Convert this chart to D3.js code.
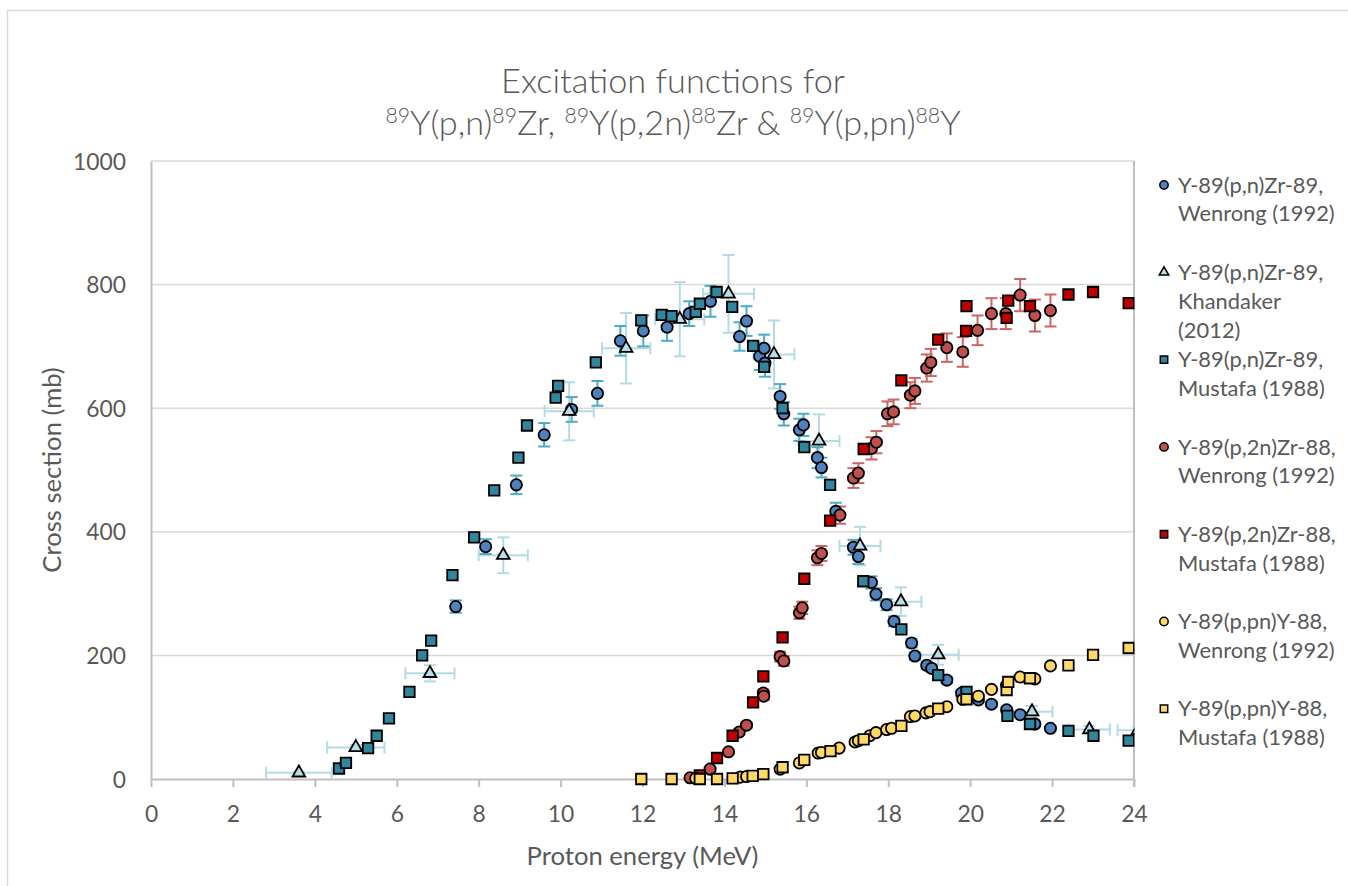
<!DOCTYPE html>
<html><head><meta charset="utf-8">
<script src="https://cdn.jsdelivr.net/npm/d3@7"></script>
<style>body{margin:0;background:#fff}svg{display:block}</style>
</head><body>
<svg id="chart" width="1348" height="886"></svg>
<script>
// ---------------- data ----------------
const xTickValues = [0,2,4,6,8,10,12,14,16,18,20,22,24];
const yTickValues = [0,200,400,600,800,1000];

// Y-89(p,n)Zr-89, Wenrong (1992)  [MeV, mb]
const pnWenrong = [[7.44,279],[8.17,376],[8.92,476],[9.6,557],[10.27,598],[10.9,624],[11.46,709],[12.02,725],[12.6,731],[13.14,753],
  [13.66,773],[14.37,716],[14.54,741],[14.86,684],[14.97,697],[14.99,673],[15.36,619],[15.45,591],[15.83,565],[15.93,573],
  [16.27,520],[16.37,504],[16.72,433],[17.15,375],[17.27,360],[17.59,318],[17.7,299],[17.96,282],[18.14,255],[18.57,220],
  [18.65,199],[18.94,184],[19.06,179],[19.43,160],[19.79,139],[20.2,128],[20.52,121],[20.89,112],[21.22,104],[21.58,89],[21.96,82]];
const pnWenrongErr = [10,12,15,19,20,20,24,25,22,20, 25,23,24,22,22,22,20,19,18,18, 17,16,14,12,12,10,10,9,8,7, 6,6,6,5,5,4,4,4,3,3,3];

// Y-89(p,n)Zr-89, Khandaker (2012)
const pnKhandaker = [[3.61,10],[5.0,51],[6.81,171],[8.6,362],[10.21,595],[11.6,697],[12.91,744],[14.1,785],[15.21,687],[16.31,547],
  [17.31,377],[18.31,287],[19.22,201],[21.51,109],[22.91,80],[24.1,79]];
const pnKhandakerXErr = [0.8,0.7,0.6,0.6,0.6,0.59,0.6,0.62,0.5,0.5,0.5,0.5,0.5,0.5,0.5,0.5];
const pnKhandakerYErr = [2,4,13,29,47,57,60,63,55,43,31,23,16,9,6,6];

// Y-89(p,n)Zr-89, Mustafa (1988)
const pnMustafa = [[4.59,17],[4.76,26],[5.3,50],[5.51,70],[5.81,98],[6.31,141],[6.62,200],[6.84,224],[7.36,330],[7.89,391],
  [8.38,467],[8.97,520],[9.18,572],[9.88,617],[9.94,636],[10.86,674],[11.97,742],[12.47,751],[12.71,749],[13.3,756],
  [13.4,769],[13.81,788],[14.19,764],[14.7,701],[14.97,667],[15.42,600],[15.95,537],[16.58,476],[17.39,320],[18.32,242],
  [19.22,168],[19.91,141],[20.91,102],[21.46,89],[22.4,78],[23.01,70],[23.87,62]];

// Y-89(p,2n)Zr-88, Wenrong (1992)
const p2nWenrong = [[13.16,2],[13.65,16],[14.1,44],[14.36,76],[14.54,87],[14.95,139],[14.96,134],[15.36,198],[15.45,191],[15.83,269],
  [15.9,277],[16.27,358],[16.37,365],[16.82,427],[17.15,487],[17.27,495],[17.59,535],[17.71,545],[17.98,591],[18.13,594],
  [18.54,621],[18.65,628],[18.94,665],[19.04,674],[19.43,698],[19.82,691],[20.18,726],[20.52,753],[20.87,753],[21.22,783],
  [21.58,750],[21.96,758]];
const p2nWenrongErr = [1,2,3,4,4,6,6,8,8,10, 10,12,12,14,16,16,18,18,20,20, 21,21,22,22,23,24,24,25,25,26, 26,26];

// Y-89(p,2n)Zr-88, Mustafa (1988)
const p2nMustafa = [[13.4,6],[13.82,34],[14.2,70],[14.7,124],[14.95,166],[15.42,229],[15.95,324],[16.58,418],[17.4,534],[18.32,645],
  [19.22,711],[19.9,725],[19.91,765],[20.89,746],[20.93,774],[21.46,765],[22.4,784],[23.0,788],[23.87,770]];

// Y-89(p,pn)Y-88, Wenrong (1992)
const ppnWenrong = [[13.3,1],[14.38,3],[14.54,4],[15.36,16],[15.83,26],[16.29,42],[16.37,43],[16.8,50],[17.19,60],[17.27,62],
  [17.55,70],[17.7,75],[17.96,80],[18.08,82],[18.54,101],[18.65,102],[18.92,107],[19.02,109],[19.43,117],[19.82,129],
  [20.2,134],[20.52,145],[20.89,152],[21.22,165],[21.58,162],[21.96,183]];

// Y-89(p,pn)Y-88, Mustafa (1988)
const ppnMustafa = [[11.97,0],[12.71,0],[13.4,0],[13.82,0],[14.2,1],[14.69,5],[14.95,8],[15.42,19],[15.95,31],[16.59,45],
  [17.4,64],[18.32,86],[19.22,114],[19.91,129],[20.89,144],[20.93,157],[21.46,163],[22.4,184],[23.0,201],[23.87,212]];

const legendLabels = [
  ["Y-89(p,n)Zr-89,","Wenrong (1992)"],
  ["Y-89(p,n)Zr-89,","Khandaker","(2012)"],
  ["Y-89(p,n)Zr-89,","Mustafa (1988)"],
  ["Y-89(p,2n)Zr-88,","Wenrong (1992)"],
  ["Y-89(p,2n)Zr-88,","Mustafa (1988)"],
  ["Y-89(p,pn)Y-88,","Wenrong (1992)"],
  ["Y-89(p,pn)Y-88,","Mustafa (1988)"]
];

// ---------------- drawing ----------------
const svg = d3.select('#chart');
const FONT = 'Lato, "Open Sans", "Liberation Sans", sans-serif';
const TXT = '#595959';

function fit(sample, target, weight, size0){
  const t = svg.append('text').attr('font-family',FONT).attr('font-weight',weight||400)
    .attr('font-size',100).text(sample);
  const w = t.node().getComputedTextLength();
  t.remove();
  return w>0 ? 100*target/w : size0;
}
const titleSize = fit('Excitation functions for', 344, 300, 34);
const tickSize = fit('1000', 53, 400, 22);
const legendSize = fit('Mustafa (1988)', 147, 400, 21);
const axisTitleSize = fit('Proton energy (MeV)', 232, 400, 24);

const L = 151, R = 1134, T = 161, B = 779;
const x = d3.scaleLinear().domain([0,24]).range([L,R]);
const y = d3.scaleLinear().domain([0,1000]).range([B,T]);

// chart border
svg.append('rect').attr('x',7.5).attr('y',10.5).attr('width',1400).attr('height',1000)
  .attr('fill','none').attr('stroke','#d9d9d9').attr('stroke-width',1.5);

// gridlines
svg.append('g').selectAll('line').data(yTickValues.filter(d=>d>0)).join('line')
  .attr('x1',L).attr('x2',R).attr('y1',d=>y(d)).attr('y2',d=>y(d))
  .attr('stroke','#d9d9d9').attr('stroke-width',1.5);

// right boundary line
svg.append('line').attr('x1',R).attr('x2',R).attr('y1',T).attr('y2',B+8)
  .attr('stroke','#bfbfbf').attr('stroke-width',2);

// x axis
const gx = svg.append('g').attr('transform',`translate(0,${B})`)
  .call(d3.axisBottom(x).tickValues(xTickValues).tickSize(8).tickSizeOuter(0).tickFormat(d3.format('d')));
gx.select('.domain').attr('stroke','#bfbfbf').attr('stroke-width',2);
gx.selectAll('.tick line').attr('stroke','#bfbfbf').attr('stroke-width',2);
gx.selectAll('.tick text').attr('fill',TXT).attr('font-family',FONT).attr('font-size',tickSize)
  .attr('y',35).attr('dy','0.35em');

// y axis
const gy = svg.append('g').attr('transform',`translate(${L},0)`)
  .call(d3.axisLeft(y).tickValues(yTickValues).tickSize(0).tickSizeOuter(0).tickFormat(d3.format('d')));
gy.select('.domain').attr('stroke','#bfbfbf').attr('stroke-width',2);
gy.selectAll('.tick text').attr('fill',TXT).attr('font-family',FONT).attr('font-size',tickSize)
  .attr('x',-25).attr('dy','0.35em');

// axis titles
svg.append('text').attr('x',(L+R)/2).attr('y',856).attr('dy','0.35em').attr('text-anchor','middle')
  .attr('fill',TXT).attr('font-family',FONT).attr('font-size',axisTitleSize).text('Proton energy (MeV)');
svg.append('text').attr('transform',`translate(52,${(T+B)/2}) rotate(-90)`).attr('dy','0.35em')
  .attr('text-anchor','middle').attr('fill',TXT).attr('font-family',FONT).attr('font-size',axisTitleSize)
  .text('Cross section (mb)');

// title
const title = svg.append('g').attr('fill',TXT).attr('font-family',FONT).attr('font-weight',300);
title.append('text').attr('x',673).attr('y',93).attr('text-anchor','middle').attr('font-size',titleSize)
  .text('Excitation functions for');
const t2 = title.append('text').attr('x',673).attr('y',135).attr('text-anchor','middle').attr('font-size',titleSize);
const parts = [['89',1],['Y(p,n)',0],['89',1],['Zr, ',0],['89',1],['Y(p,2n)',0],['88',1],['Zr & ',0],['89',1],['Y(p,pn)',0],['88',1],['Y',0]];
let prevSup = 0;
parts.forEach(([s,sup])=>{
  const sp = t2.append('tspan').text(s);
  const shift = titleSize*0.36;
  if(sup){ sp.attr('font-size',titleSize*0.62).attr('dy', prevSup? 0 : -shift); }
  else { sp.attr('dy', prevSup? shift : 0); }
  prevSup = sup;
});

// clip (hide marks beyond 24 MeV)
svg.append('defs').append('clipPath').attr('id','plotclip').append('rect')
  .attr('x',L-20).attr('y',T-30).attr('width',R-L+20.5).attr('height',B-T+50);
const plot = svg.append('g').attr('clip-path','url(#plotclip)');

// error bars
function yErrBars(data, errs, color, cap){
  const g = plot.append('g').attr('stroke',color).attr('stroke-width',2).attr('fill','none');
  data.forEach((d,i)=>{
    const e = errs[i]; const cx = x(d[0]);
    const y1 = y(d[1]-e), y2 = y(d[1]+e);
    g.append('line').attr('x1',cx).attr('x2',cx).attr('y1',y1).attr('y2',y2);
    g.append('line').attr('x1',cx-cap).attr('x2',cx+cap).attr('y1',y1).attr('y2',y1);
    g.append('line').attr('x1',cx-cap).attr('x2',cx+cap).attr('y1',y2).attr('y2',y2);
  });
}
function xErrBars(data, errs, color, cap){
  const g = plot.append('g').attr('stroke',color).attr('stroke-width',2).attr('fill','none');
  data.forEach((d,i)=>{
    const e = errs[i]; const cy = y(d[1]);
    const x1 = x(d[0]-e), x2 = x(d[0]+e);
    g.append('line').attr('x1',x1).attr('x2',x2).attr('y1',cy).attr('y2',cy);
    g.append('line').attr('x1',x1).attr('x2',x1).attr('y1',cy-cap).attr('y2',cy+cap);
    g.append('line').attr('x1',x2).attr('x2',x2).attr('y1',cy-cap).attr('y2',cy+cap);
  });
}
xErrBars(pnKhandaker, pnKhandakerXErr, '#b3dbe6', 6);
yErrBars(pnKhandaker, pnKhandakerYErr, '#b3dbe6', 6);
yErrBars(pnWenrong, pnWenrongErr, '#4bacc6', 6);
yErrBars(p2nWenrong, p2nWenrongErr, '#cd6562', 6);

// markers
const series = [
  {data:pnWenrong, type:d3.symbolCircle, size:100, fill:'#4f81bd'},
  {data:pnKhandaker, type:d3.symbolTriangle, size:70, fill:'#b7dee8'},
  {data:pnMustafa, type:d3.symbolSquare, size:110, fill:'#31859c'},
  {data:p2nWenrong, type:d3.symbolCircle, size:100, fill:'#c0504d'},
  {data:p2nMustafa, type:d3.symbolSquare, size:110, fill:'#c00000'},
  {data:ppnWenrong, type:d3.symbolCircle, size:100, fill:'#ffd966'},
  {data:ppnMustafa, type:d3.symbolSquare, size:110, fill:'#ffd966'}
];
series.forEach(s=>{
  plot.append('g').selectAll('path').data(s.data).join('path')
    .attr('d', d3.symbol().type(s.type).size(s.size))
    .attr('transform', d=>`translate(${x(d[0])},${y(d[1])})`)
    .attr('fill', s.fill).attr('stroke','#000').attr('stroke-width',1.8);
});

// legend
const lg = svg.append('g');
const legTop = 185, slot = 87.3, lineH = 28.8;
legendLabels.forEach((lines,i)=>{
  const yy = legTop + i*slot;
  const s = series[i];
  lg.append('path').attr('d', d3.symbol().type(s.type).size(s.type===d3.symbolTriangle?40:55)())
    .attr('transform',`translate(1164,${yy})`).attr('fill',s.fill).attr('stroke','#000').attr('stroke-width',1.5);
  lines.forEach((ln,j)=>{
    lg.append('text').attr('x',1178).attr('y',yy + j*lineH).attr('dy','0.35em')
      .attr('fill',TXT).attr('font-family',FONT).attr('font-size',legendSize).text(ln);
  });
});
</script>
</body></html>
